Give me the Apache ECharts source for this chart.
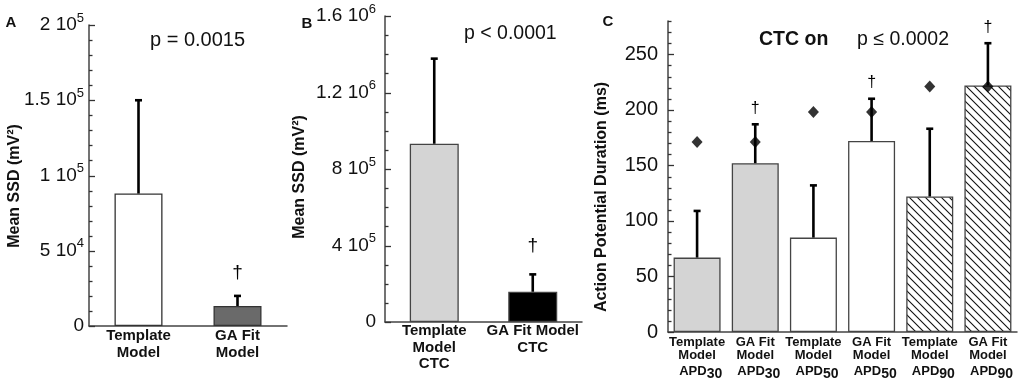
<!DOCTYPE html>
<html lang="en">
<head>
<meta charset="UTF-8">
<title>Mean SSD and APD</title>
<script src="https://cdn.jsdelivr.net/npm/echarts@6/dist/echarts.min.js"></script>
<style>
  html, body { margin: 0; background: #fff; }
  #main { width: 1025px; height: 386px; }
</style>
</head>
<body>
<div id="main"></div>
<script>
var FONT = '"Liberation Sans", Arial, sans-serif';

// panel A
var catsA = ['Template\nModel', 'GA Fit\nModel'];
var meanA = [88000, 13300];
var upperA = [150000, 20000];
var daggerA = [0, 1];
var ticksA = ['0', '5 10{s|4}', '1 10{s|5}', '1.5 10{s|5}', '2 10{s|5}'];

// panel B
var catsB = ['Template\nModel\nCTC', 'GA Fit Model\nCTC'];
var meanB = [932000, 158000];
var upperB = [1377000, 249000];
var daggerB = [0, 1];
var ticksB = ['0', '4 10{s|5}', '8 10{s|5}', '1.2 10{s|6}', '1.6 10{s|6}'];

// panel C
var catsC = [
    'Template\nModel\n  {a|APD}{b|30}', 'GA Fit\nModel\n  {a|APD}{b|30}',
    'Template\nModel\n  {a|APD}{b|50}', 'GA Fit\nModel\n  {a|APD}{b|50}',
    'Template\nModel\n  {a|APD}{b|90}', 'GA Fit\nModel\n  {a|APD}{b|90}'
];
var meanC = [67, 152, 85, 172, 122, 222];
var upperC = [109, 187, 132, 210, 183, 260];
var diamondC = [171, 171, 198, 198, 221, 221];
var daggerC = [0, 1, 0, 1, 0, 1];
var ticksC = [0, 50, 100, 150, 200, 250];

// hatch tile for the APD90 bars
function hatch() {
    var c = document.createElement('canvas');
    c.width = 8; c.height = 8;
    var g = c.getContext('2d');
    g.fillStyle = '#fff';
    g.fillRect(0, 0, 8, 8);
    g.strokeStyle = '#111';
    g.lineWidth = 1.1;
    g.beginPath();
    g.moveTo(-2, -2); g.lineTo(10, 10);
    g.moveTo(-2, 6); g.lineTo(2, 10);
    g.moveTo(6, -2); g.lineTo(10, 2);
    g.stroke();
    return { image: c, repeat: 'repeat' };
}
var hatchFill = hatch();

var fillA = ['#ffffff', '#6a6a6a'];
var fillB = ['#d4d4d4', '#000000'];
var fillC = ['#d4d4d4', '#d4d4d4', '#ffffff', '#ffffff', hatchFill, hatchFill];

var axisColor = '#444';
var lineStyle = { color: axisColor, width: 1.5 };

function barSeries(idx, mean, fills, width, border) {
    return {
        type: 'bar',
        xAxisIndex: idx,
        yAxisIndex: idx,
        barWidth: width,
        silent: true,
        data: mean.map(function (v, i) {
            return { value: v, itemStyle: { color: fills[i], borderColor: border, borderWidth: 1.3 } };
        })
    };
}

function errorSeries(idx, mean, upper, dagger, lift, size) {
    return {
        type: 'custom',
        xAxisIndex: idx,
        yAxisIndex: idx,
        z: 4,
        silent: true,
        encode: { x: 0, y: [1, 2] },
        data: mean.map(function (m, i) { return [i, m, upper[i], dagger[i]]; }),
        renderItem: function (params, api) {
            var i = api.value(0);
            var base = api.coord([i, api.value(1)]);
            var top = api.coord([i, api.value(2)]);
            var kids = [
                { type: 'line', shape: { x1: base[0], y1: base[1], x2: top[0], y2: top[1] },
                  style: { stroke: '#000', lineWidth: 2.6 } },
                { type: 'line', shape: { x1: top[0] - 3.5, y1: top[1], x2: top[0] + 3.5, y2: top[1] },
                  style: { stroke: '#000', lineWidth: 2.6 } }
            ];
            if (api.value(3)) {
                kids.push({ type: 'text', style: { text: '\u2020', x: top[0], y: top[1] - lift,
                    align: 'center', verticalAlign: 'middle', fontSize: size, fontFamily: FONT, fill: '#000' } });
            }
            return { type: 'group', children: kids };
        }
    };
}

// small inside ticks on the y axis (minor every minorStep, longer every majorStep)
function tickSeries(idx, max, minorStep, majorStep) {
    var rows = [];
    var every = Math.round(majorStep / minorStep);
    for (var k = 0; k * minorStep <= max; k++) {
        rows.push([0, k * minorStep, k % every === 0 ? 6 : 3.5]);
    }
    return {
        type: 'custom',
        xAxisIndex: idx,
        yAxisIndex: idx,
        z: 6,
        silent: true,
        clip: false,
        encode: { x: 0, y: 1 },
        data: rows,
        renderItem: function (params, api) {
            var x0 = params.coordSys.x;
            var y = Math.round(api.coord([0, api.value(1)])[1]) + 0.5;
            return { type: 'line', shape: { x1: x0, y1: y, x2: x0 + api.value(2), y2: y },
                     style: { stroke: '#333', lineWidth: 1.3 } };
        }
    };
}

function xAxisFor(idx, cats, fontSize, lineHeight, margin, rich) {
    return {
        type: 'category',
        gridIndex: idx,
        data: cats,
        axisLine: { lineStyle: lineStyle },
        axisTick: { show: false },
        axisLabel: {
            interval: 0, margin: margin, color: '#111', fontFamily: FONT,
            fontWeight: 'bold', fontSize: fontSize, lineHeight: lineHeight, rich: rich || {}
        }
    };
}

var supRich = { s: { fontSize: 13, lineHeight: 13, verticalAlign: 'top', fontFamily: FONT, color: '#111' } };

function yAxisFor(idx, max, step, fontSize, margin, formatter) {
    return {
        type: 'value',
        gridIndex: idx,
        min: 0, max: max, interval: step,
        axisLine: { show: true, lineStyle: lineStyle },
        axisTick: { show: false },
        splitLine: { show: false },
        axisLabel: {
            margin: margin, fontSize: fontSize, lineHeight: 27, color: '#111', fontFamily: FONT,
            formatter: formatter, rich: supRich
        }
    };
}

var chart = echarts.init(document.getElementById('main'));

var option = {
    animation: false,
    backgroundColor: '#fff',
    grid: [
        { left: 89, top: 25, width: 198, height: 301 },
        { left: 385, top: 16, width: 197, height: 306 },
        { left: 668, top: 21, width: 349, height: 311 }
    ],
    xAxis: [
        xAxisFor(0, catsA, 15, 17, 1),
        xAxisFor(1, catsB, 15, 16.5, 1),
        xAxisFor(2, catsC, 13, 13, 3.5, {
            a: { fontSize: 13, fontWeight: 'bold', lineHeight: 20, fontFamily: FONT, color: '#111' },
            b: { fontSize: 14, fontWeight: 'bold', lineHeight: 14, verticalAlign: 'bottom', fontFamily: FONT, color: '#111' }
        })
    ],
    yAxis: [
        yAxisFor(0, 200000, 50000, 19, 5, function (v) { return ticksA[Math.round(v / 50000)] || ''; }),
        yAxisFor(1, 1600000, 400000, 19, 9, function (v) { return ticksB[Math.round(v / 400000)] || ''; }),
        yAxisFor(2, 280, 10, 20, 10, function (v) { return ticksC.indexOf(v) >= 0 ? String(v) : ''; })
    ],
    series: [
        barSeries(0, meanA, fillA, 48, '#333'),
        errorSeries(0, meanA, upperA, daggerA, 23, 19),
        tickSeries(0, 200000, 10000, 50000),
        barSeries(1, meanB, fillB, 49, '#444'),
        errorSeries(1, meanB, upperB, daggerB, 29, 19),
        tickSeries(1, 1600000, 100000, 400000),
        barSeries(2, meanC, fillC, 47, '#444'),
        errorSeries(2, meanC, upperC, daggerC, 16, 16),
        tickSeries(2, 280, 10, 50),
        {
            type: 'scatter', xAxisIndex: 2, yAxisIndex: 2, z: 5, silent: true,
            symbol: 'diamond', symbolSize: [11, 12],
            itemStyle: { color: '#000' },
            data: diamondC
        }
    ],
    graphic: [
        { type: 'text', x: 11, y: 23, style: { text: 'A', align: 'center', verticalAlign: 'middle', font: 'bold 15px ' + FONT, fill: '#111' } },
        { type: 'text', x: 307, y: 24, style: { text: 'B', align: 'center', verticalAlign: 'middle', font: 'bold 15px ' + FONT, fill: '#111' } },
        { type: 'text', x: 608, y: 22, style: { text: 'C', align: 'center', verticalAlign: 'middle', font: 'bold 15px ' + FONT, fill: '#111' } },
        { type: 'text', x: 150, y: 40, style: { text: 'p = 0.0015', align: 'left', verticalAlign: 'middle', font: '20px ' + FONT, fill: '#111' } },
        { type: 'text', x: 464, y: 34, style: { text: 'p < 0.0001', align: 'left', verticalAlign: 'middle', font: '19.5px ' + FONT, fill: '#111' } },
        { type: 'text', x: 759, y: 40, style: { text: 'CTC on', align: 'left', verticalAlign: 'middle', font: 'bold 19.5px ' + FONT, fill: '#111' } },
        { type: 'text', x: 857, y: 40, style: { text: 'p \u2264 0.0002', align: 'left', verticalAlign: 'middle', font: '19.5px ' + FONT, fill: '#111' } },
        { type: 'text', x: 15, y: 186, rotation: Math.PI / 2, style: { text: 'Mean SSD (mV\u00b2)', align: 'center', verticalAlign: 'middle', font: 'bold 16px ' + FONT, fill: '#111' } },
        { type: 'text', x: 300, y: 177, rotation: Math.PI / 2, style: { text: 'Mean SSD (mV\u00b2)', align: 'center', verticalAlign: 'middle', font: 'bold 16px ' + FONT, fill: '#111' } },
        { type: 'text', x: 602, y: 197, rotation: Math.PI / 2, style: { text: 'Action Potential Duration (ms)', align: 'center', verticalAlign: 'middle', font: 'bold 16px ' + FONT, fill: '#111' } }
    ]
};

chart.setOption(option);
</script>
</body>
</html>
